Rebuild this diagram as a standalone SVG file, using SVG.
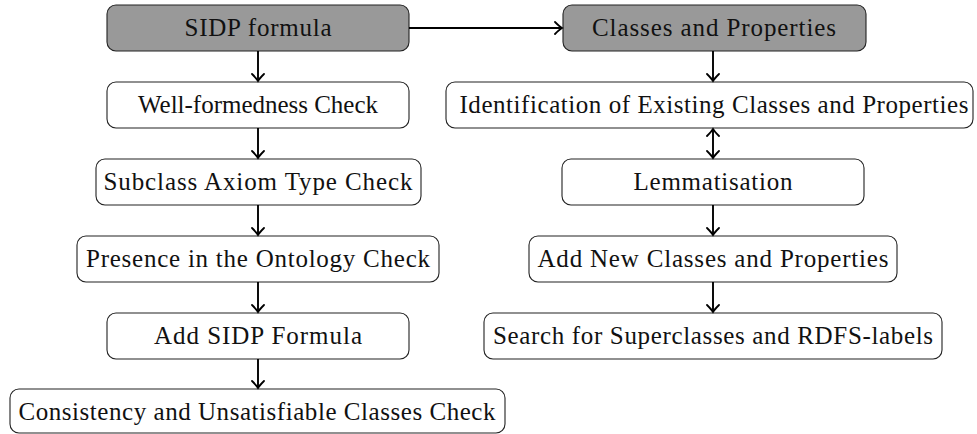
<svg xmlns="http://www.w3.org/2000/svg" width="977" height="434" viewBox="0 0 977 434">
<defs>
<marker id="arr" markerUnits="userSpaceOnUse" markerWidth="14" markerHeight="14" viewBox="-8 -7 10 14" refX="0" refY="0" orient="auto-start-reverse">
<path d="M -7 -6 Q -2.5 -1.5 0 0 Q -2.5 1.5 -7 6" fill="none" stroke="#000" stroke-width="1.8" stroke-linecap="round"/>
</marker>
<style>
.box{fill:#fff;stroke:#222;stroke-width:1.1}
.grey{fill:#999;stroke:#222;stroke-width:1.1}
text{font-family:"Liberation Serif","Times New Roman",serif;font-size:25px;fill:#111;text-anchor:middle}
.con{stroke:#000;stroke-width:1.9;fill:none}
</style>
</defs>
<g id="n-sidp"><rect class="grey" x="107" y="5" width="302" height="46" rx="9"/><text x="258" y="36" textLength="147" lengthAdjust="spacing">SIDP formula</text></g>
<g id="n-wf"><rect class="box" x="107" y="82" width="302" height="46" rx="9"/><text x="258" y="113" textLength="240" lengthAdjust="spacing">Well-formedness Check</text></g>
<g id="n-sub"><rect class="box" x="96" y="159" width="325" height="46" rx="9"/><text x="258" y="190" textLength="309" lengthAdjust="spacing">Subclass Axiom Type Check</text></g>
<g id="n-pres"><rect class="box" x="77" y="236" width="362" height="46" rx="9"/><text x="258" y="267" textLength="344" lengthAdjust="spacing">Presence in the Ontology Check</text></g>
<g id="n-add"><rect class="box" x="107" y="313" width="302" height="46" rx="9"/><text x="258" y="344" textLength="208" lengthAdjust="spacing">Add SIDP Formula</text></g>
<g id="n-cons"><rect class="box" x="10" y="389" width="495" height="44" rx="9"/><text x="257" y="420" textLength="477" lengthAdjust="spacing">Consistency and Unsatisfiable Classes Check</text></g>
<g id="n-cp"><rect class="grey" x="563" y="5" width="303" height="46" rx="9"/><text x="714" y="36" textLength="244" lengthAdjust="spacing">Classes and Properties</text></g>
<g id="n-id"><rect class="box" x="446" y="82" width="527" height="46" rx="9"/><text x="714" y="113" textLength="509" lengthAdjust="spacing">Identification of Existing Classes and Properties</text></g>
<g id="n-lem"><rect class="box" x="562" y="159" width="302" height="46" rx="9"/><text x="713" y="190" textLength="159" lengthAdjust="spacing">Lemmatisation</text></g>
<g id="n-new"><rect class="box" x="529" y="236" width="368" height="46" rx="9"/><text x="713" y="267" textLength="351" lengthAdjust="spacing">Add New Classes and Properties</text></g>
<g id="n-search"><rect class="box" x="484" y="313" width="458" height="46" rx="9"/><text x="713" y="344" textLength="440" lengthAdjust="spacing">Search for Superclasses and RDFS-labels</text></g>
<g id="connectors">
<line class="con" x1="409" y1="28" x2="562" y2="28" marker-end="url(#arr)"/>
<line class="con" x1="258" y1="51" x2="258" y2="81" marker-end="url(#arr)"/>
<line class="con" x1="258" y1="128" x2="258" y2="158" marker-end="url(#arr)"/>
<line class="con" x1="258" y1="205" x2="258" y2="235" marker-end="url(#arr)"/>
<line class="con" x1="258" y1="282" x2="258" y2="312" marker-end="url(#arr)"/>
<line class="con" x1="258" y1="359" x2="258" y2="388" marker-end="url(#arr)"/>
<line class="con" x1="713" y1="51" x2="713" y2="81" marker-end="url(#arr)"/>
<line class="con" x1="713" y1="129" x2="713" y2="158" marker-start="url(#arr)" marker-end="url(#arr)"/>
<line class="con" x1="713" y1="205" x2="713" y2="235" marker-end="url(#arr)"/>
<line class="con" x1="713" y1="282" x2="713" y2="312" marker-end="url(#arr)"/>
</g>
</svg>
